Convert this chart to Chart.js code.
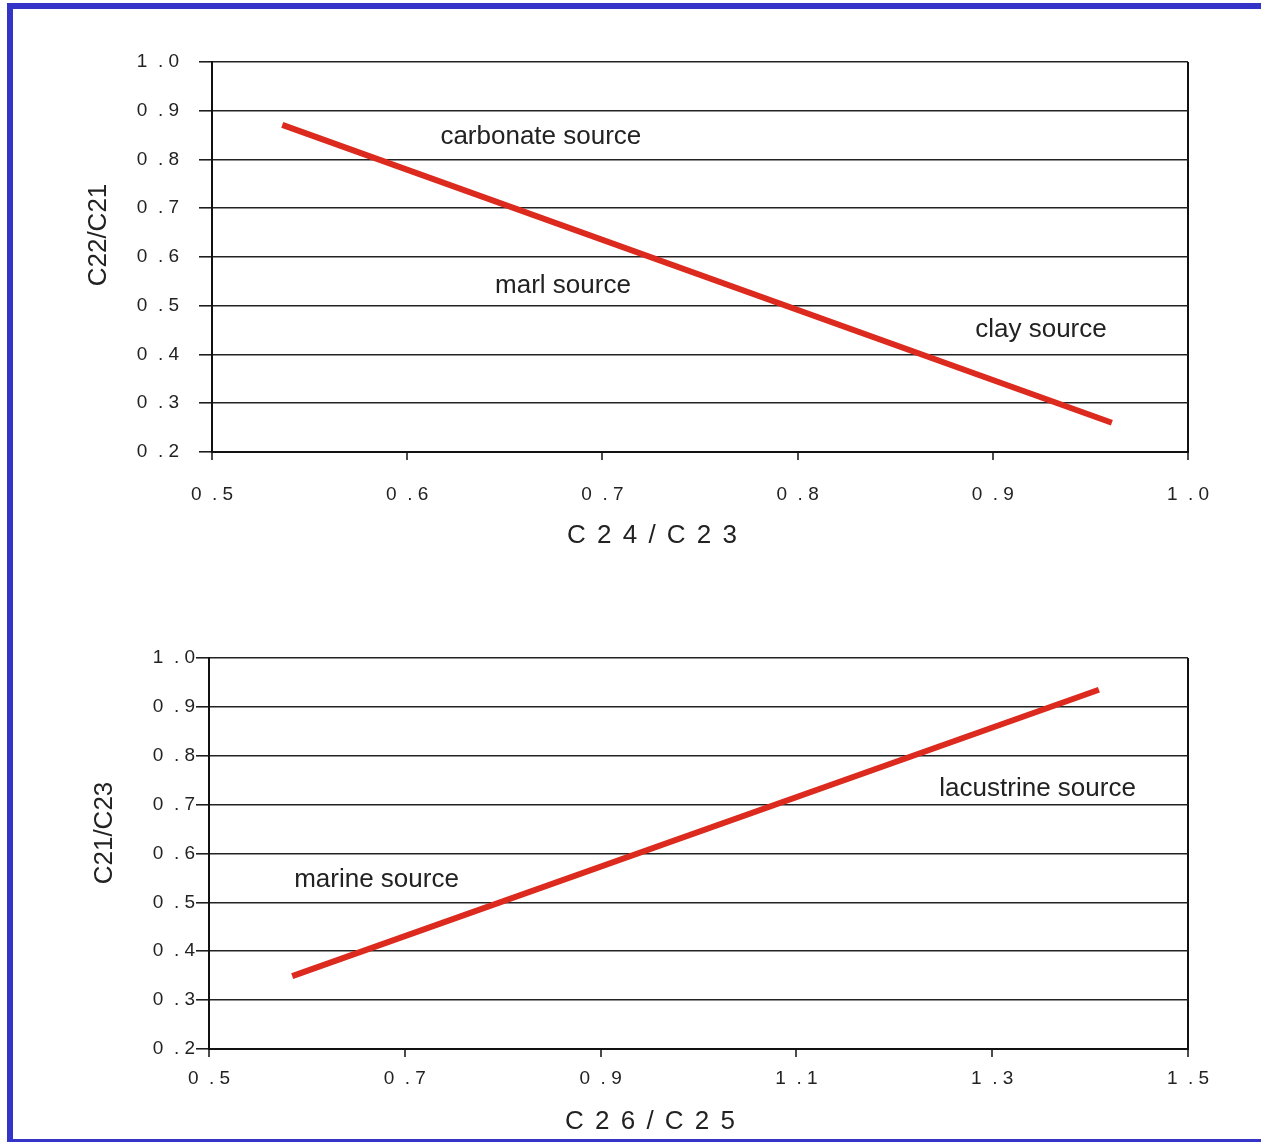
<!DOCTYPE html>
<html>
<head>
<meta charset="utf-8">
<script src="https://cdn.jsdelivr.net/npm/chart.js@4/dist/chart.umd.min.js"></script>
<style>
body { margin: 0; background: #fff; width: 1261px; height: 1142px; overflow: hidden; position: relative; }
#frame { position: absolute; left: 7px; top: 3px; width: 1300px; height: 1130px; border: 6px solid #3434c8; border-right: none; }
canvas { position: absolute; left: 0; }
#arriba { top: 0; }
#abajo { top: 570px; }
</style>
</head>
<body>
<div id="frame"></div>
<canvas id="arriba" width="1261" height="570"></canvas>
<canvas id="abajo" width="1261" height="572"></canvas>
<script>
// top chart: C24/C23 vs C22/C21
var topLineX = [0.536, 0.961];
var topLineY = [0.871, 0.260];
var topXTicks = [0.5, 0.6, 0.7, 0.8, 0.9, 1.0];
var topXLabels = ['0  . 5', '0  . 6', '0  . 7', '0  . 8', '0  . 9', '1  . 0'];
var topYTicks = [0.2, 0.3, 0.4, 0.5, 0.6, 0.7, 0.8, 0.9, 1.0];
var topYLabels = ['0  . 2', '0  . 3', '0  . 4', '0  . 5', '0  . 6', '0  . 7', '0  . 8', '0  . 9', '1  . 0'];
var topNotes = ['carbonate source', 'marl source', 'clay source'];
var topNotesX = [0.617, 0.645, 0.891];
var topNotesY = [0.846, 0.540, 0.450];

// bottom chart: C26/C25 vs C21/C23
var bottomLineX = [0.585, 1.409];
var bottomLineY = [0.349, 0.935];
var bottomXTicks = [0.5, 0.7, 0.9, 1.1, 1.3, 1.5];
var bottomXLabels = ['0  . 5', '0  . 7', '0  . 9', '1  . 1', '1  . 3', '1  . 5'];
var bottomYTicks = [0.2, 0.3, 0.4, 0.5, 0.6, 0.7, 0.8, 0.9, 1.0];
var bottomYLabels = ['0  . 2', '0  . 3', '0  . 4', '0  . 5', '0  . 6', '0  . 7', '0  . 8', '0  . 9', '1  . 0'];
var bottomNotes = ['marine source', 'lacustrine source'];
var bottomNotesX = [0.587, 1.246];
var bottomNotesY = [0.546, 0.732];

var fuente = '"Liberation Sans", Arial, Helvetica, sans-serif';

var notas = {
  id: 'notas',
  afterDraw: function (chart, args, o) {
    var ctx = chart.ctx;
    var xs = chart.scales.x, ys = chart.scales.y;
    ctx.save();
    ctx.fillStyle = '#222';
    ctx.font = '26px ' + fuente;
    ctx.textBaseline = 'middle';
    ctx.textAlign = 'left';
    for (var i = 0; i < o.texts.length; i++) {
      ctx.fillText(o.texts[i], xs.getPixelForValue(o.xs[i]), ys.getPixelForValue(o.ys[i]));
    }
    ctx.textAlign = 'center';
    ctx.letterSpacing = '2px';
    ctx.fillText(o.xTitle, o.xTitlePos[0], o.xTitlePos[1]);
    ctx.letterSpacing = '0px';
    ctx.translate(o.yTitlePos[0], o.yTitlePos[1]);
    ctx.rotate(-Math.PI / 2);
    ctx.fillText(o.yTitle, 0, 0);
    ctx.restore();
  }
};

function grafico(id, c) {
  var puntos = c.lineX.map(function (x, i) { return { x: x, y: c.lineY[i] }; });
  return new Chart(document.getElementById(id).getContext('2d'), {
    type: 'scatter',
    data: {
      datasets: [{
        data: puntos,
        showLine: true,
        borderColor: '#dc2a1f',
        borderWidth: 6,
        pointRadius: 0,
        borderCapStyle: 'butt'
      }]
    },
    options: {
      responsive: false,
      animation: false,
      devicePixelRatio: 1,
      layout: { padding: { top: c.top, right: 73, left: 0, bottom: 0 } },
      plugins: {
        legend: { display: false },
        tooltip: { enabled: false },
        notas: {
          texts: c.notes, xs: c.notesX, ys: c.notesY,
          xTitle: c.xTitle, xTitlePos: c.xTitlePos,
          yTitle: c.yTitle, yTitlePos: c.yTitlePos
        }
      },
      scales: {
        x: {
          type: 'linear',
          min: c.xTicks[0],
          max: c.xTicks[c.xTicks.length - 1],
          afterBuildTicks: function (s) { s.ticks = c.xTicks.map(function (v) { return { value: v }; }); },
          afterFit: function (s) { s.height = c.xHeight; s.paddingLeft = 0; s.paddingRight = 0; },
          ticks: {
            autoSkip: false, maxRotation: 0,
            padding: c.xPad,
            color: '#222',
            font: { size: 19, family: fuente },
            callback: function (v, i) { return c.xLabels[i]; }
          },
          grid: {
            color: function (ctx) { return ctx.index === c.xTicks.length - 1 ? '#111' : 'rgba(0,0,0,0)'; },
            lineWidth: 2,
            tickLength: 8,
            tickColor: '#111',
            tickWidth: 1.5
          },
          border: { color: '#111', width: 2 }
        },
        y: {
          type: 'linear',
          min: c.yTicks[0],
          max: c.yTicks[c.yTicks.length - 1],
          afterBuildTicks: function (s) { s.ticks = c.yTicks.map(function (v) { return { value: v }; }); },
          afterFit: function (s) { s.width = c.yWidth; s.paddingTop = 0; s.paddingBottom = 0; },
          ticks: {
            autoSkip: false,
            padding: c.yPad,
            color: '#222',
            font: { size: 19, family: fuente },
            callback: function (v, i) { return c.yLabels[i]; }
          },
          grid: {
            color: '#222',
            lineWidth: 1.6,
            tickLength: 13,
            tickColor: '#111',
            tickWidth: 1.5
          },
          border: { color: '#111', width: 2 }
        }
      }
    },
    plugins: [notas]
  });
}

grafico('arriba', {
  lineX: topLineX, lineY: topLineY,
  xTicks: topXTicks, xLabels: topXLabels, yTicks: topYTicks, yLabels: topYLabels,
  notes: topNotes, notesX: topNotesX, notesY: topNotesY,
  xTitle: 'C 2 4 / C 2 3', xTitlePos: [653, 536],
  yTitle: 'C22/C21', yTitlePos: [99, 235],
  top: 62, yWidth: 212, xHeight: 118, xPad: 23, yPad: 20
});

grafico('abajo', {
  lineX: bottomLineX, lineY: bottomLineY,
  xTicks: bottomXTicks, xLabels: bottomXLabels, yTicks: bottomYTicks, yLabels: bottomYLabels,
  notes: bottomNotes, notesX: bottomNotesX, notesY: bottomNotesY,
  xTitle: 'C 2 6 / C 2 5', xTitlePos: [651, 552],
  yTitle: 'C21/C23', yTitlePos: [105, 263],
  top: 88, yWidth: 209, xHeight: 93, xPad: 10, yPad: 1
});
</script>
</body>
</html>
